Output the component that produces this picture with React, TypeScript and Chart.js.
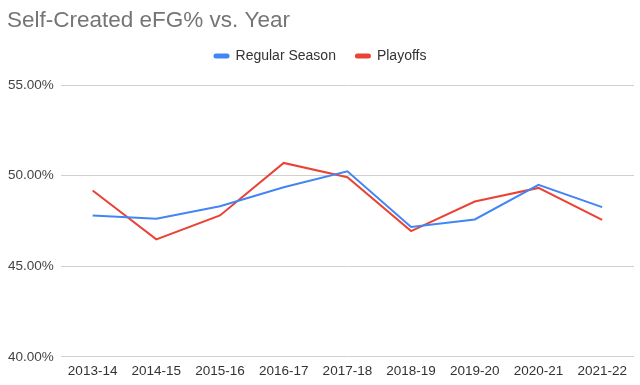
import React, { useEffect, useRef } from "react";
import { Chart, registerables } from "chart.js";

Chart.register(...registerables);

const seasons = ["2013-14", "2014-15", "2015-16", "2016-17", "2017-18", "2018-19", "2019-20", "2020-21", "2021-22"];
const regularSeason = [47.8, 47.62, 48.31, 49.36, 50.24, 47.16, 47.58, 49.49, 48.26];
const playoffs = [49.18, 46.48, 47.8, 50.7, 49.91, 46.94, 48.57, 49.32, 47.56];
const yTicks = [40, 45, 50, 55];

const FONT = "'Liberation Sans', Arial, sans-serif";

const layoutTweaks = {
  id: "layoutTweaks",
  beforeInit(chart: any) {
    const legend = chart.legend;
    if (!legend) return;
    const orig = legend.fit;
    legend.fit = function () {
      orig.call(legend);
      legend.height += 7;
    };
  },
  afterLayout(chart: any) {
    const legend = chart.legend;
    if (legend) {
      legend.top -= 5;
      legend.bottom -= 5;
      legend.left += 3;
      legend.right += 3;
    }
    const title = chart.titleBlock;
    if (title) {
      title.left += 6;
      title.right += 6;
    }
  },
};

export default function App() {
  const ref = useRef<HTMLCanvasElement>(null);
  useEffect(() => {
    document.body.style.margin = "0";
    const chart = new Chart(ref.current!, {
      type: "line",
      data: {
        labels: seasons,
        datasets: [
          {
            label: "Regular Season",
            data: regularSeason,
            borderColor: "#4285F4",
            backgroundColor: "#4285F4",
            borderWidth: 2,
            pointRadius: 0,
            tension: 0,
          },
          {
            label: "Playoffs",
            data: playoffs,
            borderColor: "#EA4335",
            backgroundColor: "#EA4335",
            borderWidth: 2,
            pointRadius: 0,
            tension: 0,
          },
        ],
      },
      plugins: [layoutTweaks],
      options: {
        animation: false,
        responsive: false,
        layout: { padding: { left: 1, right: 6, top: 4, bottom: 0 } },
        plugins: {
          title: {
            display: true,
            text: "Self-Created eFG% vs. Year",
            align: "start",
            color: "#757575",
            font: { family: FONT, size: 22.5, weight: "normal" },
            padding: { top: 3, bottom: 0 },
          },
          legend: {
            display: true,
            position: "top",
            labels: {
              boxWidth: 14,
              boxHeight: 3,
              useBorderRadius: true,
              borderRadius: 1.5,
              color: "#333",
              font: { family: FONT, size: 14 },
              padding: 20,
            },
          },
          tooltip: { enabled: false },
        },
        scales: {
          x: {
            offset: true,
            grid: { display: false, drawTicks: false },
            border: { display: false },
            ticks: {
              color: "#333",
              font: { family: FONT, size: 13.5 },
              maxRotation: 0,
              autoSkip: false,
              padding: 6,
            },
          },
          y: {
            min: 40,
            max: 55,
            afterBuildTicks: (axis: any) => {
              axis.ticks = yTicks.map((v) => ({ value: v }));
            },
            grid: { color: "#d0d0d0", drawTicks: false },
            border: { display: false },
            ticks: {
              color: "#444",
              font: { family: FONT, size: 13.5 },
              padding: 7,
              callback: (v: any) => Number(v).toFixed(2) + "%",
            },
          },
        },
      },
    });
    return () => chart.destroy();
  }, []);
  return <canvas ref={ref} width={640} height={385} style={{ display: "block" }} />;
}
